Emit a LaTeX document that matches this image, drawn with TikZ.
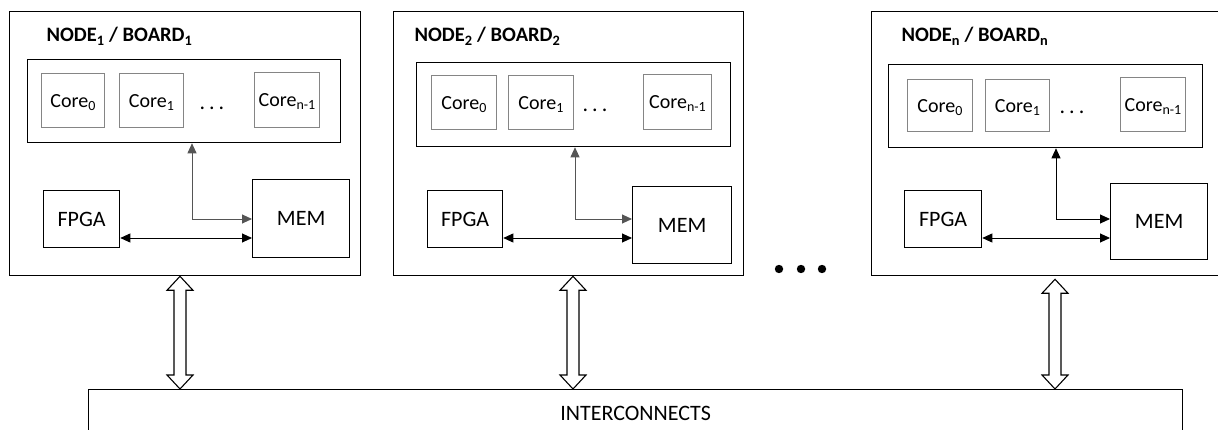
\documentclass[tikz,border=0pt]{standalone}
\usepackage{fontspec}
\setmainfont{Carlito}
\usetikzlibrary{arrows.meta,calc}
\definecolor{corec}{HTML}{858585}
\definecolor{linkgray}{HTML}{555555}
\tikzset{
 txt/.style={font=\fontsize{20}{24}\selectfont},
 bigtxt/.style={font=\fontsize{22}{26}\selectfont},
 board/.style={draw, line width=1.3pt},
 inbox/.style={draw, line width=1.3pt},
 corebox/.style={draw=corec, line width=1.4pt, txt, text height=15pt, text depth=2pt},
 unit/.style={draw, line width=1.3pt, bigtxt},
 link/.style={line width=0.9pt, {Triangle[length=10pt,width=9pt]}-{Triangle[length=10pt,width=9pt]}},
 glink/.style={link, draw=linkgray},
 hollow/.style={draw, line width=1.1pt, fill=white, line join=miter},
 title/.style={anchor=base west, font=\fontsize{20.5}{24}\selectfont\bfseries},
 dotsnode/.style={anchor=base, bigtxt},
}
\newcommand\rbox[7]{\node[#1, anchor=north west, inner sep=0pt, minimum width={(#5-#3)*1pt}, minimum height={(#6-#4)*1pt}] (#2) at (#3,#4) {#7};}
\newcommand\wdots{.\hspace{4pt}.\hspace{4pt}.}
\newcommand\dblarrow[2]{%
 \draw[hollow] (#1) -- ++(13,14) -- ++(-7,0) -- ($(#2)+(6,-14)$) -- ++(7,0) -- (#2)
   -- ++(-13,-14) -- ++(7,0) -- ($(#1)+(-6,14)$) -- ++(-7,0) -- cycle;}
\begin{document}
\begin{tikzpicture}[x=1pt,y=-1pt]
\clip (0,0) rectangle (1218,430);
\fill[white] (0,0) rectangle (1218,430);

% ---------- Board 1 ----------
\rbox{board}{b1}{9}{11}{360}{275}{}
\node[title] (t1) at (43,42) {NODE\textsubscript{1} / BOARD\textsubscript{1}};
\rbox{inbox}{in1}{27}{59}{340}{142}{}
\rbox{corebox}{c10}{41}{73}{104}{127}{Core\textsubscript{0}}
\rbox{corebox}{c11}{119}{73}{183}{127}{Core\textsubscript{1}}
\node[dotsnode] (d1) at (212,110) {\wdots};
\rbox{corebox}{c1n}{254}{72}{319}{127}{Core\textsubscript{n-1}}
\rbox{unit}{f1}{43}{190}{119}{247}{FPGA}
\rbox{unit}{m1}{252}{179}{349}{257}{MEM}
\coordinate (j1) at (192,219);
\draw[glink] (j1 |- in1.south) -- (j1) -- (j1 -| m1.west);
\draw[link] (f1.east |- 0,238) -- (m1.west |- 0,238);

% ---------- Board 2 ----------
\rbox{board}{b2}{393}{11}{743}{275}{}
\node[title] (t2) at (411,42) {NODE\textsubscript{2} / BOARD\textsubscript{2}};
\rbox{inbox}{in2}{416}{62}{730}{146}{}
\rbox{corebox}{c20}{431}{75}{496}{129}{Core\textsubscript{0}}
\rbox{corebox}{c21}{508}{75}{573}{129}{Core\textsubscript{1}}
\node[dotsnode] (d2) at (595,112) {\wdots};
\rbox{corebox}{c2n}{643}{74}{711}{129}{Core\textsubscript{n-1}}
\rbox{unit}{f2}{427}{190}{502}{247}{FPGA}
\rbox{unit}{m2}{632}{186}{731}{263}{MEM}
\coordinate (j2) at (575,219);
\draw[glink] (j2 |- in2.south) -- (j2) -- (j2 -| m2.west);
\draw[link] (f2.east |- 0,238) -- (m2.west |- 0,238);

% ---------- Board n ----------
\rbox{board}{bn}{871}{11}{1226}{275}{}
\node[title] (tn) at (898,42) {NODE\textsubscript{n} / BOARD\textsubscript{n}};
\rbox{inbox}{inn}{888}{64}{1202}{147}{}
\rbox{corebox}{cn0}{907}{79}{972}{131}{Core\textsubscript{0}}
\rbox{corebox}{cn1}{985}{79}{1049}{131}{Core\textsubscript{1}}
\node[dotsnode] (dn) at (1072,114) {\wdots};
\rbox{corebox}{cnn}{1120}{77}{1185}{131}{Core\textsubscript{n-1}}
\rbox{unit}{fn}{904}{190}{981}{247}{FPGA}
\rbox{unit}{mn}{1110}{183}{1207}{259}{MEM}
\coordinate (jn) at (1056,219);
\draw[link] (jn |- inn.south) -- (jn) -- (jn -| mn.west);
\draw[link] (fn.east |- 0,238) -- (mn.west |- 0,238);

% ---------- ellipsis between boards ----------
\fill (779,269) circle (4.2) (801,269) circle (4.2) (822,269) circle (4.2);

% ---------- Interconnects ----------
\rbox{unit}{ic}{88}{389}{1182}{437}{INTERCONNECTS}

\coordinate (a1t) at (b1.south -| 180,0);
\coordinate (a1b) at (ic.north -| 180,0);
\coordinate (a2t) at (b2.south -| 573,0);
\coordinate (a2b) at (ic.north -| 573,0);
\coordinate (ant) at ($(bn.south -| 1055,0)+(0,3)$);
\coordinate (anb) at (ic.north -| 1055,0);
\dblarrow{a1t}{a1b}
\dblarrow{a2t}{a2b}
\dblarrow{ant}{anb}
\end{tikzpicture}
\end{document}
